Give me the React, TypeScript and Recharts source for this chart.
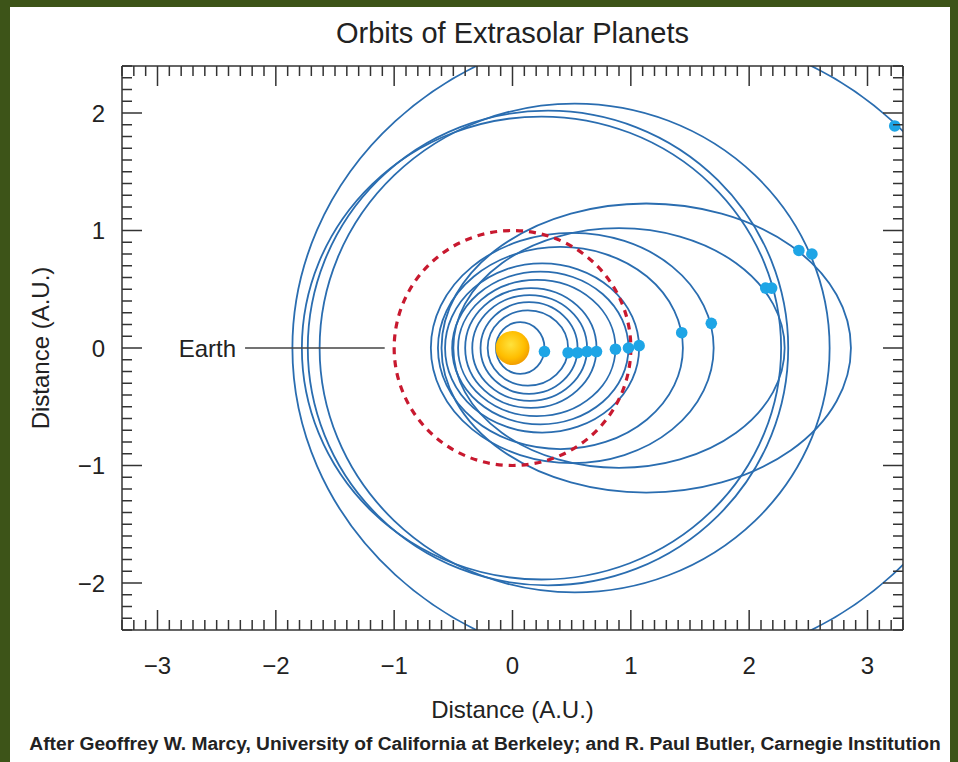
import React from "react";
import {
  ScatterChart, Scatter, XAxis, YAxis,
  ReferenceArea, ReferenceDot, ReferenceLine,
} from "recharts";

// Orbits are ellipses aligned with the x axis, centred on (orbitCenterX, 0), in A.U.
const orbitCenterX = [0.065, 0.13, 0.14, 0.145, 0.155, 0.205, 0.235, 0.25, 0.405, 0.505, 0.9, 1.13, 0.245, 0.3, 0.525, 1.11];
const orbitSemiX = [0.205, 0.34, 0.41, 0.485, 0.555, 0.665, 0.745, 0.82, 1.035, 1.195, 1.4, 1.73, 2.025, 2.03, 2.155, 2.97];
const orbitSemiY = [0.22, 0.32, 0.39, 0.45, 0.51, 0.58, 0.65, 0.72, 0.86, 0.98, 1.02, 1.23, 1.97, 2.02, 2.08, 2.73];

// Current planet positions
const planetX = [0.27, 0.47, 0.55, 0.63, 0.71, 0.87, 0.98, 1.07, 1.43, 1.68, 2.14, 2.19, 2.42, 2.53, 3.23];
const planetY = [-0.03, -0.04, -0.04, -0.03, -0.03, -0.01, 0, 0.02, 0.13, 0.21, 0.51, 0.51, 0.83, 0.8, 1.89];

const earthOrbitRadius = 1;
const earthLeader = [-2.26, -1.08];

const xDomain: [number, number] = [-3.3, 3.3];
const yDomain: [number, number] = [-2.4, 2.4];

// tick marks every 0.1 A.U., labels on whole numbers
const tenths = (lo: number, hi: number) =>
  Array.from({ length: Math.round((hi - lo) * 10) + 1 }, (_, i) => Math.round(lo * 10 + i) / 10);
const xTicks = tenths(xDomain[0], xDomain[1]);
const yTicks = tenths(yDomain[0], yDomain[1]);

const INK = "#222";
const AXIS = "#333";
const ORBIT = "#2a6db0";
const PLANET = "#1ea5e6";
const FONT = "'Liberation Sans', Arial, Helvetica, sans-serif";

const isMajor = (v: number) => Number.isInteger(v);
const fmt = (v: number) => (v < 0 ? `\u2212${-v}` : `${v}`);
const tickLen = (v: number) => (isMajor(v) ? 20 : 10);

const BottomTick = ({ x, y, payload }: any) => (
  <g>
    <line x1={x} x2={x} y1={y} y2={y - tickLen(payload.value)} stroke={AXIS} strokeWidth={1.5} />
    {isMajor(payload.value) && (
      <text x={x} y={y + 44} textAnchor="middle" fontSize={24} fill={INK}>{fmt(payload.value)}</text>
    )}
  </g>
);

const TopTick = ({ x, y, payload }: any) => (
  <line x1={x} x2={x} y1={y} y2={y + tickLen(payload.value)} stroke={AXIS} strokeWidth={1.5} />
);

const LeftTick = ({ x, y, payload }: any) => (
  <g>
    <line x1={x} x2={x + tickLen(payload.value)} y1={y} y2={y} stroke={AXIS} strokeWidth={1.5} />
    {isMajor(payload.value) && (
      <text x={x - 17} y={y + 8.5} textAnchor="end" fontSize={24} fill={INK}>{fmt(payload.value)}</text>
    )}
  </g>
);

const RightTick = ({ x, y, payload }: any) => (
  <line x1={x} x2={x - tickLen(payload.value)} y1={y} y2={y} stroke={AXIS} strokeWidth={1.5} />
);

const OrbitShape = (props: any) => {
  const { x, y, width, height, clipPath } = props;
  return (
    <ellipse
      cx={x + width / 2} cy={y + height / 2} rx={width / 2} ry={height / 2}
      fill="none" stroke={ORBIT} strokeWidth={1.8} clipPath={clipPath}
    />
  );
};

const EarthShape = (props: any) => {
  const { x, y, width, height } = props;
  return (
    <ellipse
      cx={x + width / 2} cy={y + height / 2} rx={width / 2} ry={height / 2}
      fill="none" stroke="#c8192f" strokeWidth={3.2} strokeDasharray="7 6"
    />
  );
};

const SunShape = (props: any) => (
  <g>
    <defs>
      <radialGradient id="sunFill" cx="45%" cy="40%" r="62%">
        <stop offset="0%" stopColor="#ffe23c" />
        <stop offset="65%" stopColor="#ffbe00" />
        <stop offset="100%" stopColor="#f09a00" />
      </radialGradient>
    </defs>
    <circle cx={props.cx} cy={props.cy} r={props.r} fill="url(#sunFill)" />
  </g>
);

const PlanetShape = (props: any) => <circle cx={props.cx} cy={props.cy} r={5.8} fill={PLANET} />;

const planets = planetX.map((x, i) => ({ x, y: planetY[i] }));

export default function App() {
  return (
    <div style={{ position: "absolute", left: 0, top: 0, width: 958, height: 762, background: "#3d5418", fontFamily: FONT, color: INK }}>
      <div style={{ position: "absolute", left: 10, top: 7, width: 940, height: 755, background: "#fff" }} />
      <div style={{ position: "absolute", left: 122, top: 16, width: 781, textAlign: "center", fontSize: 29, lineHeight: "34px" }}>
        Orbits of Extrasolar Planets
      </div>
      <div style={{ position: "absolute", left: 0, top: 0 }}>
        <ScatterChart width={958} height={762} margin={{ top: 65, right: 54, bottom: 131, left: 12 }}>
          <XAxis
            dataKey="x" type="number" domain={xDomain} allowDataOverflow ticks={xTicks} interval={0}
            height={1} tickSize={0} tickMargin={0} tickLine={false} tick={BottomTick}
            axisLine={{ stroke: AXIS, strokeWidth: 1.5 }}
            label={{ value: "Distance (A.U.)", position: "bottom", offset: 70, fontSize: 24, fill: INK }}
          />
          <XAxis
            xAxisId="top" dataKey="x" orientation="top" type="number" domain={xDomain} allowDataOverflow ticks={xTicks} interval={0}
            height={1} tickSize={0} tickMargin={0} tickLine={false} tick={TopTick}
            axisLine={{ stroke: AXIS, strokeWidth: 1.5 }}
          />
          <YAxis
            dataKey="y" type="number" domain={yDomain} allowDataOverflow ticks={yTicks} interval={0}
            width={110} tickSize={0} tickMargin={0} tickLine={false} tick={LeftTick}
            axisLine={{ stroke: AXIS, strokeWidth: 1.5 }}
            label={{ value: "Distance (A.U.)", angle: -90, position: "insideLeft", offset: 28, fontSize: 24, fill: INK, style: { textAnchor: "middle" } }}
          />
          <YAxis
            yAxisId="right" dataKey="y" orientation="right" type="number" domain={yDomain} allowDataOverflow ticks={yTicks} interval={0}
            width={1} tickSize={0} tickMargin={0} tickLine={false} tick={RightTick}
            axisLine={{ stroke: AXIS, strokeWidth: 1.5 }}
          />

          {orbitCenterX.map((c, i) => (
            <ReferenceArea
              key={i}
              x1={c - orbitSemiX[i]} x2={c + orbitSemiX[i]}
              y1={-orbitSemiY[i]} y2={orbitSemiY[i]}
              ifOverflow="hidden" shape={OrbitShape}
            />
          ))}

          <ReferenceArea
            x1={-earthOrbitRadius} x2={earthOrbitRadius} y1={-earthOrbitRadius} y2={earthOrbitRadius}
            ifOverflow="hidden" shape={EarthShape}
          />

          <ReferenceLine
            segment={[{ x: earthLeader[0], y: 0 }, { x: earthLeader[1], y: 0 }]}
            stroke="#444" strokeWidth={1.5}
            label={{ value: "Earth", position: "left", offset: 9, fontSize: 24, fill: INK }}
          />

          <Scatter data={planets} shape={PlanetShape} isAnimationActive={false} />

          <ReferenceDot x={0} y={0} r={17} shape={SunShape} />
        </ScatterChart>
      </div>
      <div style={{ position: "absolute", left: 0, top: 731, width: 970, textAlign: "center", fontSize: 19.2, fontWeight: "bold", lineHeight: "26px", whiteSpace: "nowrap" }}>
        After Geoffrey W. Marcy, University of California at Berkeley; and R. Paul Butler, Carnegie Institution
      </div>
    </div>
  );
}
